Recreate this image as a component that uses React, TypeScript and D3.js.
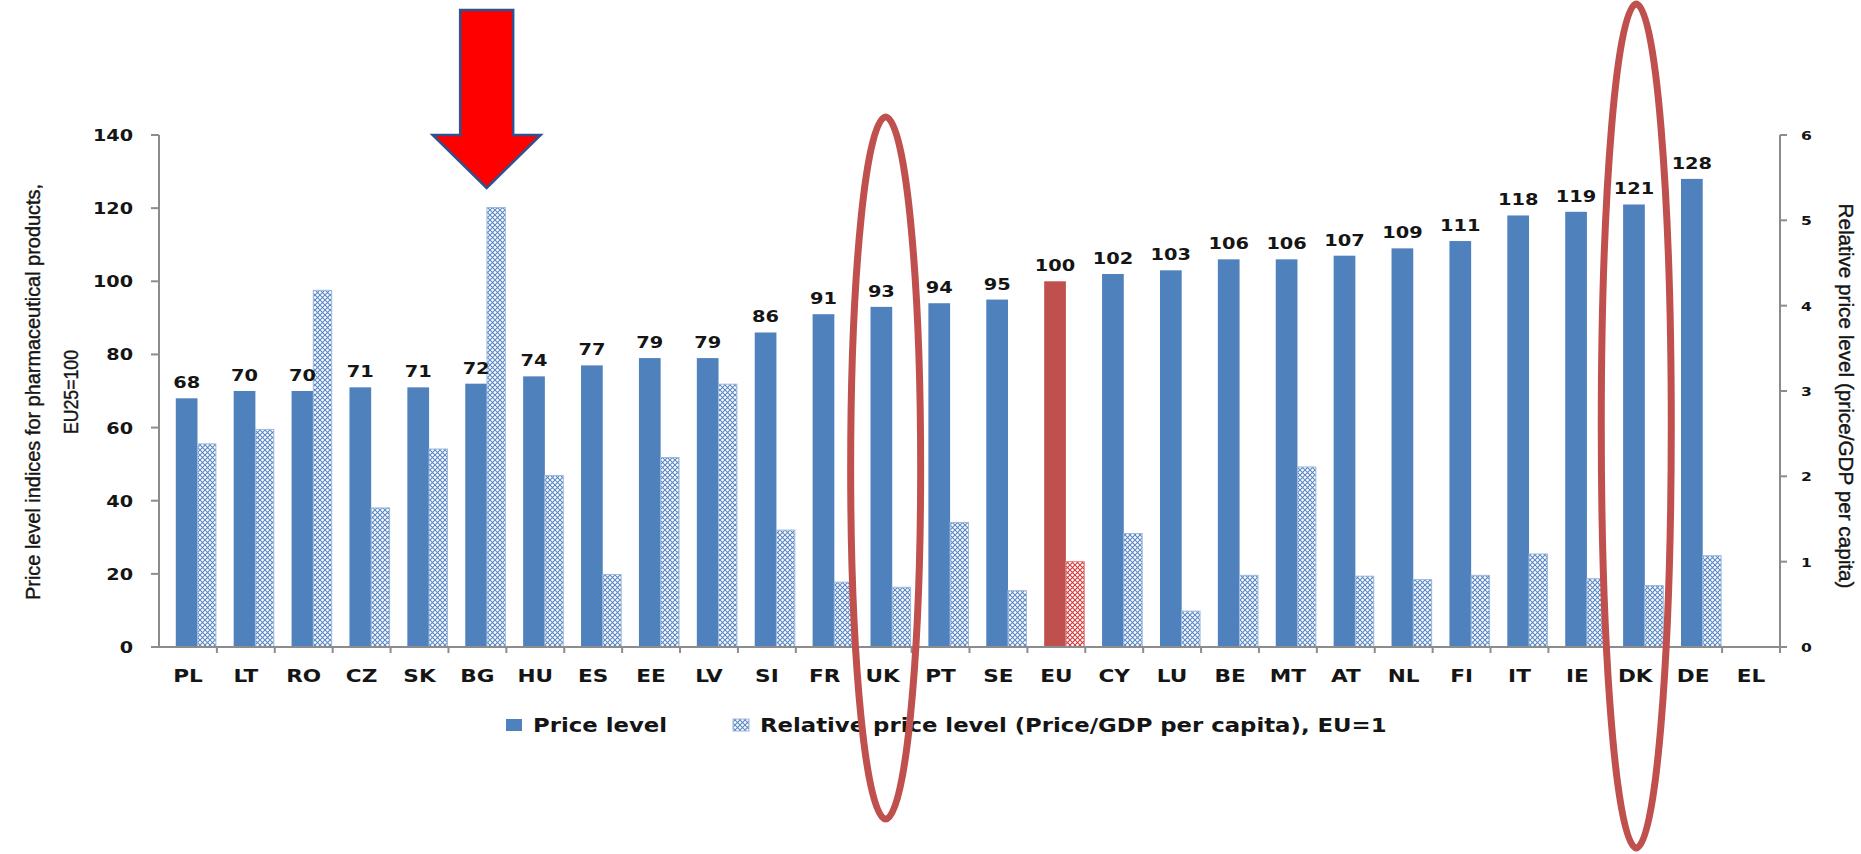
import React from "react";
import * as d3 from "d3";

const categories = ["PL","LT","RO","CZ","SK","BG","HU","ES","EE","LV","SI","FR","UK","PT","SE","EU","CY","LU","BE","MT","AT","NL","FI","IT","IE","DK","DE","EL"];
const priceLevel: (number | null)[] = [68,70,70,71,71,72,74,77,79,79,86,91,93,94,95,100,102,103,106,106,107,109,111,118,119,121,128,null];
const relativePrice: (number | null)[] = [2.38,2.55,4.18,1.63,2.32,5.15,2.01,0.85,2.22,3.08,1.37,0.76,0.70,1.46,0.66,1.00,1.33,0.42,0.84,2.11,0.83,0.79,0.84,1.09,0.80,0.72,1.07,null];
const leftTicks = [0,20,40,60,80,100,120,140];
const rightTicks = [0,1,2,3,4,5,6];
const highlightCategory = "EU";
const arrowCategory = "BG";
const circledCategories = ["UK","DK"];

const W = 1861, H = 854;
const X0 = 159, X1 = 1780, Y0 = 647, Y1 = 135;
const BLUE = "#4F81BD", RED = "#C0504D", AXIS = "#8C8C8C", TXT = "#151515";
const BOLD = "'DejaVu Sans', Verdana, sans-serif";
const NARROW = "'Liberation Sans Narrow', 'Liberation Sans', Arial, sans-serif";

function SText({ x, y, sx = 1.2, children, anchor = "middle", size = 15, weight = 700, fill = TXT, family = BOLD }: any) {
  return (
    <text transform={`translate(${x},${y}) scale(${sx},1)`} textAnchor={anchor} fontSize={size} fontWeight={weight} fill={fill} fontFamily={family}>
      {children}
    </text>
  );
}

export default function App() {
  const x = d3.scaleBand<string>().domain(categories).range([X0, X1]).paddingInner(0).paddingOuter(0);
  const yL = d3.scaleLinear().domain([0, 140]).range([Y0, Y1]);
  const yR = d3.scaleLinear().domain([0, 6]).range([Y0, Y1]);
  const bw = x.bandwidth();

  const arrowX = (x(arrowCategory) as number) + bw * 0.66;
  const arrow = [
    [arrowX - 26.5, 10], [arrowX + 26.5, 10], [arrowX + 26.5, 135], [arrowX + 54, 135],
    [arrowX, 188], [arrowX - 54, 135], [arrowX - 26.5, 135],
  ].map((p) => p.join(",")).join(" ");

  const titleStyle = { stroke: TXT, strokeWidth: 0.4 };

  return (
    <svg width={W} height={H} style={{ position: "absolute", left: 0, top: 0, background: "#fff" }}>
      <defs>
        <pattern id="hatchBlue" width="5" height="5" patternUnits="userSpaceOnUse">
          <rect width="5" height="5" fill="#fff" />
          <path d="M0,0 L5,5 M5,0 L0,5" stroke="#5A88C2" strokeWidth="1.1" />
        </pattern>
        <pattern id="hatchRed" width="5" height="5" patternUnits="userSpaceOnUse">
          <rect width="5" height="5" fill="#fff" />
          <path d="M0,0 L5,5 M5,0 L0,5" stroke="#D23A3A" strokeWidth="1.1" />
        </pattern>
      </defs>

      {/* bars */}
      {categories.map((c, i) => {
        const bx = x(c) as number;
        const p = priceLevel[i];
        const r = relativePrice[i];
        const hi = c === highlightCategory;
        return (
          <g key={c}>
            {p != null && (
              <rect x={bx + bw * 0.29} y={yL(p)} width={bw * 0.375} height={Y0 - yL(p)} fill={hi ? RED : BLUE} />
            )}
            {r != null && (
              <rect x={bx + bw * 0.665} y={yR(r)} width={bw * 0.335 - 1} height={Y0 - yR(r)} fill={hi ? "url(#hatchRed)" : "url(#hatchBlue)"} stroke={hi ? "#E08080" : "#9DB9DD"} strokeWidth={1} />
            )}
            {p != null && (
              <SText x={bx + bw * 0.29 + bw * 0.1875} y={yL(p) - 10} size={15.5} sx={1.25}>{p}</SText>
            )}
          </g>
        );
      })}

      {/* axes */}
      <line x1={X0} x2={X0} y1={Y1} y2={Y0} stroke={AXIS} strokeWidth={2} />
      <line x1={X1} x2={X1} y1={Y1} y2={Y0} stroke={AXIS} strokeWidth={2} />
      <line x1={X0 - 8} x2={X1 + 7} y1={Y0} y2={Y0} stroke={AXIS} strokeWidth={2} />
      {leftTicks.map((t) => (
        <g key={"l" + t}>
          <line x1={X0 - 8} x2={X0} y1={yL(t)} y2={yL(t)} stroke={AXIS} strokeWidth={2} />
          <SText x={133} y={yL(t) + 6} anchor="end" size={16} sx={1.2}>{t}</SText>
        </g>
      ))}
      {rightTicks.map((t) => (
        <g key={"r" + t}>
          <line x1={X1} x2={X1 + 7} y1={yR(t)} y2={yR(t)} stroke={AXIS} strokeWidth={2} />
          <SText x={1801} y={yR(t) + 5} anchor="start" size={13} sx={1.2}>{t}</SText>
        </g>
      ))}
      {categories.map((c) => (
        <g key={"c" + c}>
          <line x1={(x(c) as number) + bw} x2={(x(c) as number) + bw} y1={Y0} y2={Y0 + 6} stroke={AXIS} strokeWidth={2} />
          <SText x={(x(c) as number) + bw / 2} y={682} size={18} sx={1.2}>{c}</SText>
        </g>
      ))}

      {/* axis titles */}
      <text transform="translate(40,392) rotate(-90)" textAnchor="middle" fontSize={20} fontFamily={NARROW} fill={TXT} style={titleStyle} textLength={416} lengthAdjust="spacingAndGlyphs">
        Price level indices for pharmaceutical products,
      </text>
      <text transform="translate(78,392) rotate(-90)" textAnchor="middle" fontSize={20} fontFamily={NARROW} fill={TXT} style={titleStyle} textLength={84} lengthAdjust="spacingAndGlyphs">
        EU25=100
      </text>
      <text transform="translate(1839,396) rotate(90)" textAnchor="middle" fontSize={20} fontFamily={NARROW} fill={TXT} style={titleStyle} textLength={385} lengthAdjust="spacingAndGlyphs">
        Relative price level (price/GDP per capita)
      </text>

      {/* legend */}
      <rect x={506} y={719} width={16} height={12} fill={BLUE} />
      <SText x={533} y={732} anchor="start" size={19} sx={1.2}>Price level</SText>
      <rect x={733} y={719} width={16} height={12} fill="url(#hatchBlue)" stroke="#9DB9DD" strokeWidth={1} />
      <SText x={760} y={732} anchor="start" size={19} sx={1.2}>Relative price level (Price/GDP per capita), EU=1</SText>

      {/* annotations */}
      <polygon points={arrow} fill="#FF0000" stroke="#2F528F" strokeWidth={2.5} strokeLinejoin="miter" />
      {circledCategories.map((c, i) => {
        const cx = (x(c) as number) + bw / 2 + (i === 0 ? 3 : 1);
        const cy = i === 0 ? 468 : 426;
        const ry = i === 0 ? 351 : 422;
        return <ellipse key={"e" + c} cx={cx} cy={cy} rx={35} ry={ry} fill="none" stroke={RED} strokeWidth={7} />;
      })}
    </svg>
  );
}
